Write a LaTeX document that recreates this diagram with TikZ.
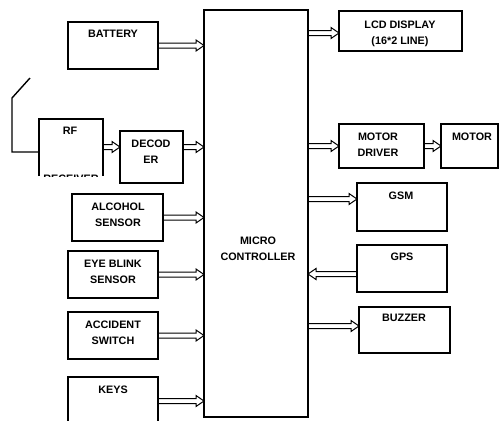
\documentclass[tikz,border=0pt]{standalone}
\usepackage{fontspec}
\setmainfont{Liberation Sans}
\usetikzlibrary{calc}
\tikzset{
  boxline/.style={draw, line width=1.4pt},
  box/.style={boxline, inner sep=0pt, outer sep=0pt},
  txt/.style={font=\fontsize{10.8}{16}\selectfont\bfseries, align=center, inner sep=0pt},
  arrowline/.style={draw, line width=1pt, line join=miter},
}
\newcommand\bx[5]{\node[box, minimum width={#4-#2}, minimum height={#5-#3}] (#1) at ({(#2+#4)/2},{(#3+#5)/2}) {};}
\newcommand\harrow[2]{%
  \draw[arrowline] let \p1=#1, \p2=#2, \n2={\x2-8*sign(\x2-\x1)} in
   (\x1,\y1+2.5pt) -- ({\n2*1pt},\y1+2.5pt) -- ({\n2*1pt},\y1+5.5pt) -- (\x2,\y1)
   -- ({\n2*1pt},\y1-5.5pt) -- ({\n2*1pt},\y1-2.5pt) -- (\x1,\y1-2.5pt) -- cycle;}
\begin{document}
\begin{tikzpicture}[x=1pt,y=-1pt]
\useasboundingbox (0,0) rectangle (499,421);
% boxes
\bx{mc}{204}{10}{308}{417}
\bx{batt}{68}{22}{158}{69}
\node[inner sep=0pt, outer sep=0pt, minimum width=64, minimum height=57] (rf) at (71,147.5) {};
\draw[boxline] (rf.south west) -- (rf.north west) -- (rf.north east) -- (rf.south east);
\bx{dec}{120}{131}{183}{183}
\bx{alc}{72}{194}{163}{241}
\bx{eye}{68}{251}{158}{298}
\bx{acc}{68}{312}{158}{359}
\bx{keys}{68}{377}{158}{440}
\bx{lcd}{339}{11}{462}{51}
\bx{mdrv}{339}{124}{424}{168}
\bx{motor}{441}{124}{498}{168}
\bx{gsm}{357}{183}{447}{231}
\bx{gps}{357}{245}{447}{292}
\bx{buzz}{359}{307}{450}{353}
% texts
\node[txt] (mcT) at (258,248.5) {MICRO\\CONTROLLER};
\node[txt] (battT) at (113,34) {BATTERY};
\node[txt] (rfT) at (70,131) {RF};
\begin{scope}
  \clip (rf.south west) rectangle (rf.north east);
  \node[txt] (rfT2) at (71,178.5) {RECEIVER};
\end{scope}
\node[txt] (decT) at (151,152) {DECOD\\ER};
\node[txt] (alcT) at (118,215) {ALCOHOL\\SENSOR};
\node[txt] (eyeT) at (113,272) {EYE BLINK\\SENSOR};
\node[txt] (accT) at (113,333) {ACCIDENT\\SWITCH};
\node[txt] (keysT) at (113,390) {KEYS};
\node[txt] (lcdT) at (400,34) {LCD DISPLAY\\(16*2 LINE)};
\node[txt] (mdrvT) at (378,145) {MOTOR\\DRIVER};
\node[txt] (motorT) at (472,137) {MOTOR};
\node[txt] (gsmT) at (401,196) {GSM};
\node[txt] (gpsT) at (402,257) {GPS};
\node[txt] (buzzT) at (404,318) {BUZZER};
% antenna
\coordinate (a1) at (12,152);
\coordinate (a2) at (12,98);
\coordinate (a3) at (30,78);
\draw[boxline] (rf.west |- a1) -- (a1) -- (a2) -- (a3);
% arrow levels
\coordinate (y147) at (0,147);
\coordinate (y401) at (0,401);
\coordinate (y33) at (0,33);
\coordinate (y199) at (0,199);
\coordinate (y274) at (0,274);
\coordinate (y326) at (0,326);
% arrows
\harrow{(batt.east)}{(mc.west |- batt.east)}
\harrow{(rf.east |- y147)}{(dec.west |- y147)}
\harrow{(dec.east |- y147)}{(mc.west |- y147)}
\harrow{(alc.east)}{(mc.west |- alc.east)}
\harrow{(eye.east)}{(mc.west |- eye.east)}
\harrow{(acc.east)}{(mc.west |- acc.east)}
\harrow{(keys.east |- y401)}{(mc.west |- y401)}
\harrow{(mc.east |- y33)}{(lcd.west |- y33)}
\harrow{(mc.east |- mdrv.west)}{(mdrv.west)}
\harrow{(mdrv.east)}{(motor.west)}
\harrow{(mc.east |- y199)}{(gsm.west |- y199)}
\harrow{(gps.west |- y274)}{(mc.east |- y274)}
\harrow{(mc.east |- y326)}{(buzz.west |- y326)}
\end{tikzpicture}
\end{document}
